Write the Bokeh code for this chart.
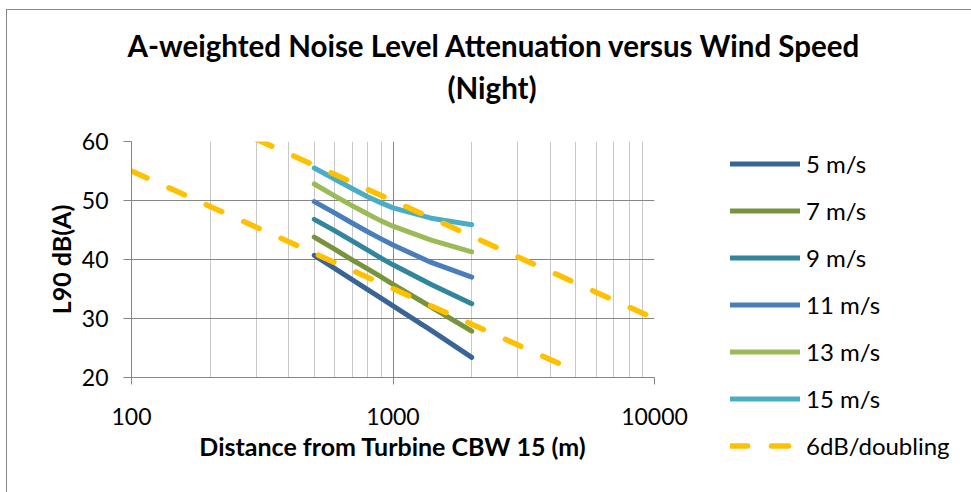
from bokeh.plotting import figure
from bokeh.models import (FixedTicker, Legend, LegendItem, Title, Range1d)
from bokeh.embed import file_html
from bokeh.resources import INLINE

# ---- data ----
distance = [500, 600, 700, 800, 900, 1000, 1400, 2000]
series_names = ["5 m/s", "7 m/s", "9 m/s", "11 m/s", "13 m/s", "15 m/s"]
l90_5 = [40.7, 38.45, 36.55, 34.9, 33.45, 32.15, 28.0, 23.4]
l90_7 = [43.8, 41.7, 39.9, 38.4, 37.05, 35.8, 31.95, 27.85]
l90_9 = [46.8, 44.85, 43.1, 41.6, 40.25, 39.1, 35.75, 32.5]
l90_11 = [49.8, 47.85, 46.15, 44.7, 43.5, 42.45, 39.5, 37.0]
l90_13 = [52.8, 50.75, 49.1, 47.7, 46.55, 45.65, 43.3, 41.3]
l90_15 = [55.5, 53.6, 52.0, 50.65, 49.6, 48.75, 47.0, 45.9]
series_values = [l90_5, l90_7, l90_9, l90_11, l90_13, l90_15]
series_colors = ["#3A6496", "#77933C", "#31859C", "#4A7EBB", "#9BBB59", "#4BACC6"]

ref_name = "6dB/doubling"
ref1_x = [100, 5000]
ref1_y = [55.0, 21.1]
ref2_x = [300, 10000]
ref2_y = [60.4, 30.0]

x_ticks = [100, 1000, 10000]
x_tick_labels = ["100", "1000", "10000"]
x_minor = [200, 300, 400, 500, 600, 700, 800, 900,
           2000, 3000, 4000, 5000, 6000, 7000, 8000, 9000]
y_ticks = [20, 30, 40, 50, 60]

title1 = "A-weighted Noise Level Attenuation versus Wind Speed"
title2 = "(Night)"
x_label = "Distance from Turbine CBW 15 (m)"
y_label = "L90 dB(A)"

FONT = "Lato"
GRID_MAJOR = "#868686"
GRID_MINOR = "#C8C8C8"

p = figure(output_backend="svg", toolbar_location=None,
           x_axis_type="log",
           x_range=Range1d(100, 10000), y_range=Range1d(20, 60),
           frame_width=523, frame_height=236,
           min_border_left=124, min_border_right=317,
           min_border_top=131, min_border_bottom=115,
           background_fill_color="white", border_fill_color="white")
p.styles = {"margin-left": "6px", "margin-top": "9px",
            "border-left": "1px solid #868686", "border-top": "1px solid #868686"}
p.outline_line_color = None

# grids
p.xgrid.ticker = FixedTicker(ticks=x_ticks, minor_ticks=x_minor)
p.xgrid.grid_line_color = GRID_MAJOR
p.xgrid.minor_grid_line_color = GRID_MINOR
p.ygrid.ticker = FixedTicker(ticks=y_ticks)
p.ygrid.grid_line_color = GRID_MAJOR

# axes
for ax in (p.xaxis[0], p.yaxis[0]):
    ax.axis_line_color = GRID_MAJOR
    ax.major_tick_line_color = GRID_MAJOR
    ax.major_tick_in = 0
    ax.minor_tick_line_color = None
    ax.major_label_text_font = FONT
    ax.major_label_text_font_size = "23px"
    ax.major_label_text_color = "black"
    ax.axis_label_text_font = FONT
    ax.axis_label_text_font_size = "25px"
    ax.axis_label_text_font_style = "bold"
    ax.axis_label_text_color = "black"

p.xaxis[0].ticker = FixedTicker(ticks=x_ticks, minor_ticks=x_minor)
p.xaxis[0].major_label_overrides = {t: s for t, s in zip(x_ticks, x_tick_labels)}
p.xaxis[0].major_tick_out = 7
p.xaxis[0].major_label_standoff = 23
p.xaxis[0].axis_label = x_label
p.xaxis[0].axis_label_standoff = 3

p.yaxis[0].ticker = FixedTicker(ticks=y_ticks)
p.yaxis[0].major_tick_out = 8
p.yaxis[0].major_label_standoff = 15
p.yaxis[0].axis_label = y_label
p.yaxis[0].axis_label_standoff = 3

# series
items = []
for name, vals, col in zip(series_names, series_values, series_colors):
    r = p.line(distance, vals, line_color=col, line_width=5, line_cap="round",
               line_join="round")
    items.append(LegendItem(label=name, renderers=[r]))

r1 = p.line(ref1_x, ref1_y, line_color="#FFC000", line_width=5.5,
            line_dash="17 24", line_cap="round")
r2 = p.line(ref2_x, ref2_y, line_color="#FFC000", line_width=5.5,
            line_dash="17 24", line_cap="round")
items.append(LegendItem(label=ref_name, renderers=[r1]))

legend = Legend(items=items, location=(76, -92),
                glyph_width=70, glyph_height=47, spacing=0,
                label_standoff=6, padding=0, margin=0,
                label_text_font=FONT, label_text_font_size="24px",
                label_text_color="black",
                background_fill_alpha=0, border_line_color=None)
p.add_layout(legend, "right")

# titles: p.title is the outer line; added titles stack outward from the frame
p.title.text = title1
p.title.align = "left"
p.title.offset = -4
p.title.standoff = 5
p.title.text_font = FONT
p.title.text_font_size = "29.5px"
p.title.text_font_style = "bold"
p.title.text_color = "black"
# blank spacer between the frame and the second title line
p.add_layout(Title(text=" ", text_font_size="1px", standoff=32), "above")
p.add_layout(Title(text=title2, align="left", offset=316, standoff=4,
                   text_font=FONT, text_font_size="29.5px",
                   text_font_style="bold", text_color="black"), "above")

open("out.html", "w").write(file_html(p, INLINE))
